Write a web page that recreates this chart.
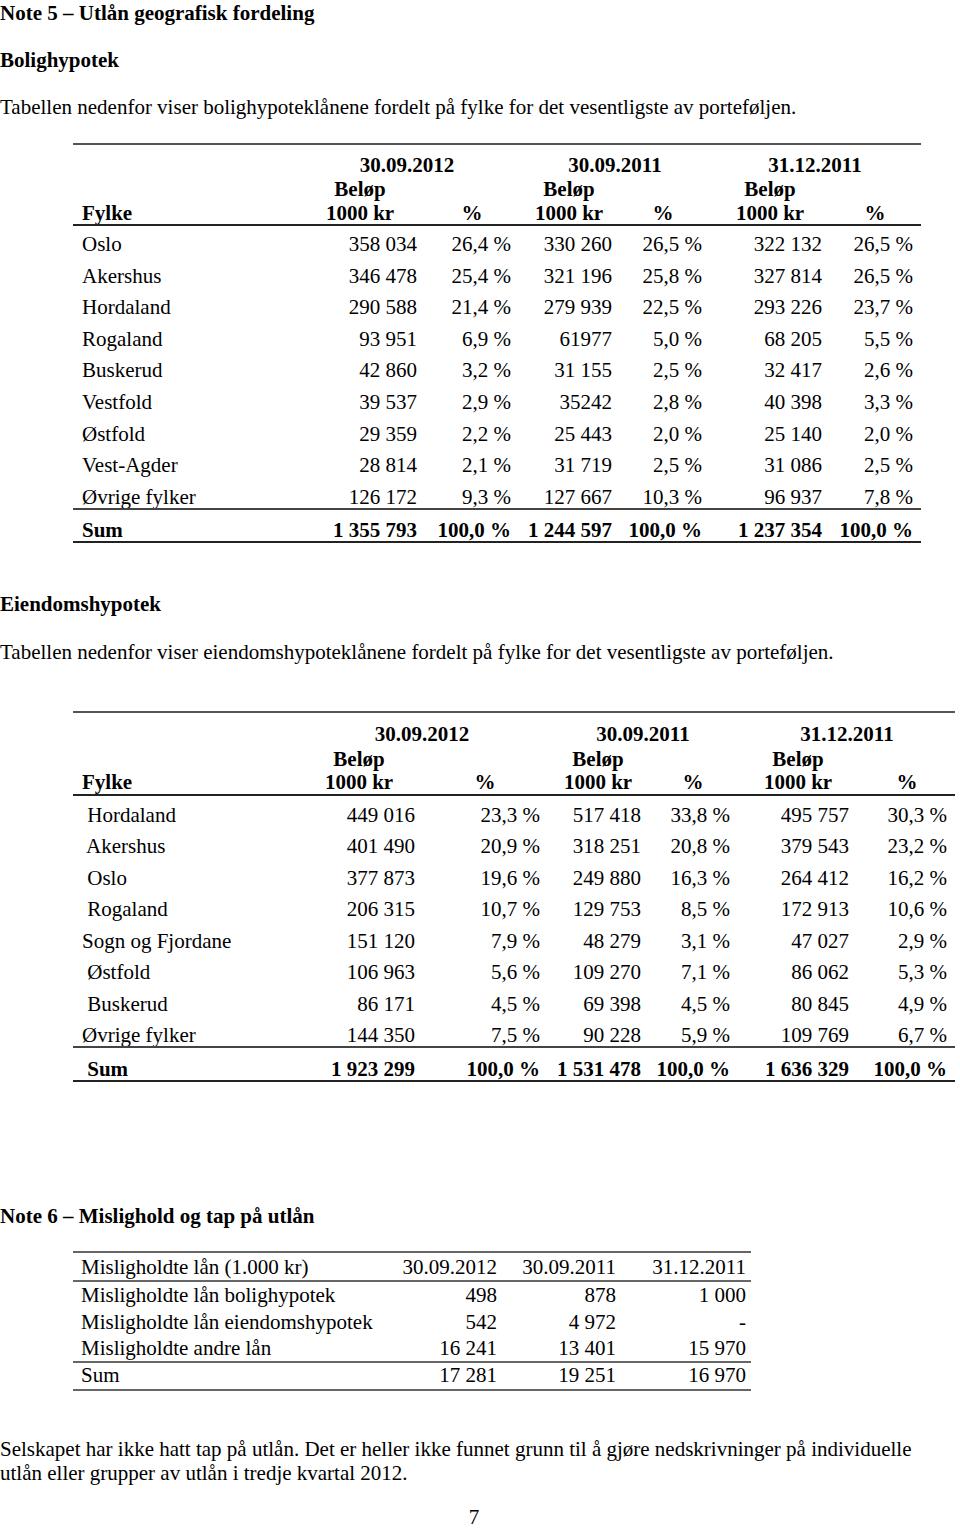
<!DOCTYPE html>
<html>
<head>
<meta charset="utf-8">
<script src="https://cdn.jsdelivr.net/npm/chart.js@4"></script>
<style>
	html, body { margin: 0; padding: 0; background: #fff; }
	#page { position: relative; width: 960px; height: 1530px; overflow: hidden;
		font-family: "Liberation Serif", "Times New Roman", serif; font-size: 21px; color: #000; }
	.t { position: absolute; white-space: pre; line-height: 22px; height: 22px; }
	.b { font-weight: bold; }
	.rule { position: absolute; background: #333; }
</style>
</head>
<body>
<div id="page"></div>
<script>
// Note 5 - Bolighypotek
const boligFylker = ['Oslo', 'Akershus', 'Hordaland', 'Rogaland', 'Buskerud', 'Vestfold', 'Østfold', 'Vest-Agder', 'Øvrige fylker']
const boligBelop2012 = ['358 034', '346 478', '290 588', '93 951', '42 860', '39 537', '29 359', '28 814', '126 172']
const boligPst2012 = ['26,4 %', '25,4 %', '21,4 %', '6,9 %', '3,2 %', '2,9 %', '2,2 %', '2,1 %', '9,3 %']
const boligBelopSep2011 = ['330 260', '321 196', '279 939', '61977', '31 155', '35242', '25 443', '31 719', '127 667']
const boligPstSep2011 = ['26,5 %', '25,8 %', '22,5 %', '5,0 %', '2,5 %', '2,8 %', '2,0 %', '2,5 %', '10,3 %']
const boligBelopDes2011 = ['322 132', '327 814', '293 226', '68 205', '32 417', '40 398', '25 140', '31 086', '96 937']
const boligPstDes2011 = ['26,5 %', '26,5 %', '23,7 %', '5,5 %', '2,6 %', '3,3 %', '2,0 %', '2,5 %', '7,8 %']
const boligSum = ['1 355 793', '100,0 %', '1 244 597', '100,0 %', '1 237 354', '100,0 %']

// Note 5 - Eiendomshypotek
const eiendomFylker = [' Hordaland', ' Akershus', ' Oslo', ' Rogaland', 'Sogn og Fjordane', ' Østfold', ' Buskerud', 'Øvrige fylker']
const eiendomBelop2012 = ['449 016', '401 490', '377 873', '206 315', '151 120', '106 963', '86 171', '144 350']
const eiendomPst2012 = ['23,3 %', '20,9 %', '19,6 %', '10,7 %', '7,9 %', '5,6 %', '4,5 %', '7,5 %']
const eiendomBelopSep2011 = ['517 418', '318 251', '249 880', '129 753', '48 279', '109 270', '69 398', '90 228']
const eiendomPstSep2011 = ['33,8 %', '20,8 %', '16,3 %', '8,5 %', '3,1 %', '7,1 %', '4,5 %', '5,9 %']
const eiendomBelopDes2011 = ['495 757', '379 543', '264 412', '172 913', '47 027', '86 062', '80 845', '109 769']
const eiendomPstDes2011 = ['30,3 %', '23,2 %', '16,2 %', '10,6 %', '2,9 %', '5,3 %', '4,9 %', '6,7 %']
const eiendomSum = ['1 923 299', '100,0 %', '1 531 478', '100,0 %', '1 636 329', '100,0 %']

// Note 6 - Mislighold
const datoer = ['30.09.2012', '30.09.2011', '31.12.2011']
const misligRader = ['Misligholdte lån bolighypotek', 'Misligholdte lån eiendomshypotek', 'Misligholdte andre lån', 'Sum']
const mislig2012 = ['498', '542', '16 241', '17 281']
const misligSep2011 = ['878', '4 972', '13 401', '19 251']
const misligDes2011 = ['1 000', '-', '15 970', '16 970']

const page = document.getElementById('page')

function text(str, x, y, align, bold, lh) {
	const el = document.createElement('div')
	el.className = 't' + (bold ? ' b' : '')
	el.textContent = str
	lh = lh || 22
	el.style.lineHeight = lh + 'px'
	el.style.height = lh + 'px'
	el.style.top = (y - lh / 2) + 'px'
	if (align === 'right') {
		el.style.left = (x - 1000) + 'px'
		el.style.width = '1000px'
		el.style.textAlign = 'right'
	} else if (align === 'center') {
		el.style.left = (x - 500) + 'px'
		el.style.width = '1000px'
		el.style.textAlign = 'center'
	} else {
		el.style.left = x + 'px'
	}
	page.appendChild(el)
}

function rule(x1, x2, y, h, color) {
	const el = document.createElement('div')
	el.className = 'rule'
	el.style.left = x1 + 'px'
	el.style.width = (x2 - x1) + 'px'
	el.style.top = (y - h / 2) + 'px'
	el.style.height = h + 'px'
	if (color) el.style.background = color
	page.appendChild(el)
}

function geoTable(cfg, fylker, cols, sum) {
	rule(cfg.left, cfg.right, cfg.top, 2, '#555')
	datoer.forEach((d, i) => {
		text(d, cfg.dateX[i], cfg.hy[0], 'center', true)
		text('Beløp', cfg.belopX[i], cfg.hy[1], 'center', true)
		text('1000 kr', cfg.belopX[i], cfg.hy[2], 'center', true)
		text('%', cfg.pstX[i], cfg.hy[2], 'center', true)
	})
	text('Fylke', cfg.left + 9, cfg.hy[2], 'left', true)
	rule(cfg.left, cfg.right, cfg.headRule, 2.5, '#222')
	fylker.forEach((f, r) => {
		const y = cfg.rowY + r * cfg.step
		text(f, cfg.left + 9, y, 'left')
		cols.forEach((col, c) => text(col[r], cfg.colX[c], y, 'right'))
	})
	rule(cfg.left, cfg.right, cfg.sumRule, 2, '#444')
	text(cfg.sumLabel, cfg.left + 9, cfg.sumY, 'left', true)
	sum.forEach((s, c) => text(s, cfg.colX[c], cfg.sumY, 'right', true))
	rule(cfg.left, cfg.right, cfg.bottom, 2.5, '#222')
}

text('Note 5 – Utlån geografisk fordeling', 0, 13, 'left', true)
text('Bolighypotek', 0, 60, 'left', true)
text('Tabellen nedenfor viser bolighypoteklånene fordelt på fylke for det vesentligste av porteføljen.', 0, 107, 'left')

geoTable({
	left: 73, right: 921, top: 144, headRule: 225, hy: [165, 189, 213],
	dateX: [407, 615, 815], belopX: [360, 569, 770], pstX: [472, 663, 875],
	colX: [417, 511, 612, 702, 822, 913],
	rowY: 244, step: 31.6, sumRule: 509, sumY: 530, bottom: 542, sumLabel: 'Sum'
}, boligFylker,
	[boligBelop2012, boligPst2012, boligBelopSep2011, boligPstSep2011, boligBelopDes2011, boligPstDes2011],
	boligSum)

text('Eiendomshypotek', 0, 604, 'left', true)
text('Tabellen nedenfor viser eiendomshypoteklånene fordelt på fylke for det vesentligste av porteføljen.', 0, 652, 'left')

geoTable({
	left: 73, right: 955, top: 712, headRule: 795, hy: [734, 759, 782],
	dateX: [422, 643, 847], belopX: [359, 598, 798], pstX: [485, 693, 907],
	colX: [415, 540, 641, 730, 849, 947],
	rowY: 815, step: 31.43, sumRule: 1047, sumY: 1069, bottom: 1081, sumLabel: ' Sum'
}, eiendomFylker,
	[eiendomBelop2012, eiendomPst2012, eiendomBelopSep2011, eiendomPstSep2011, eiendomBelopDes2011, eiendomPstDes2011],
	eiendomSum)

text('Note 6 – Mislighold og tap på utlån', 0, 1216, 'left', true)

const misligX = [497, 616, 746]
rule(73, 751, 1252, 1.5, '#666')
text('Misligholdte lån (1.000 kr)', 81, 1267, 'left')
datoer.forEach((d, i) => text(d, misligX[i], 1267, 'right'))
rule(73, 751, 1281, 1.5, '#666')
const misligY = [1295, 1321.5, 1348, 1375]
misligRader.forEach((r, i) => {
	if (i === 3) rule(73, 751, 1362, 1.5, '#666')
	text(r, 81, misligY[i], 'left')
	;[mislig2012, misligSep2011, misligDes2011].forEach((col, c) => text(col[i], misligX[c], misligY[i], 'right'))
})
rule(73, 751, 1390, 1.5, '#666')

text('Selskapet har ikke hatt tap på utlån. Det er heller ikke funnet grunn til å gjøre nedskrivninger på individuelle', 0, 1449, 'left')
text('utlån eller grupper av utlån i tredje kvartal 2012.', 0, 1473, 'left')
text('7', 474, 1517, 'center', false, 20)
</script>
</body>
</html>
